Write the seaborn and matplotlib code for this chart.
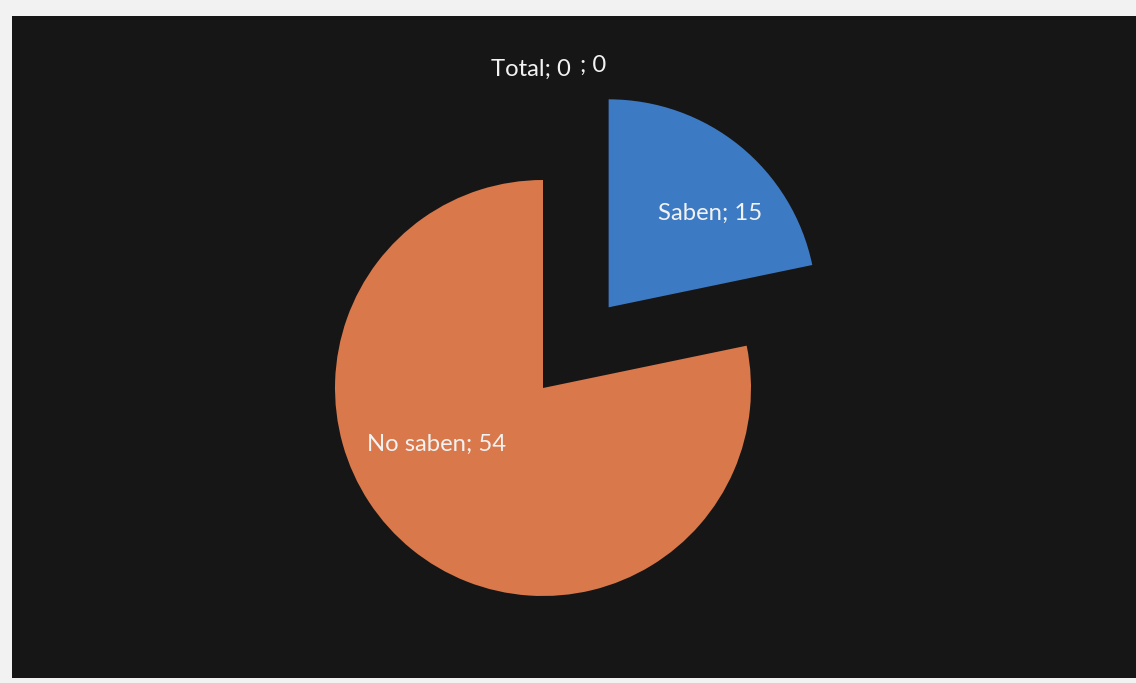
import matplotlib.pyplot as plt
import seaborn as sns

# data
labels = ['Saben', 'No saben', 'Total', '']
values = [15, 54, 0, 0]

# slice colours (scanned Excel look)
colors = ['#3d7ac4', '#d9784a', '#9aa84a', '#7a5aa0']

sns.set_style('white')
plt.rcParams['font.family'] = ['Lato', 'DejaVu Sans']

fig = plt.figure(figsize=(11.36, 6.83), dpi=100, facecolor='#f1f2f1')
# black panel, in pixel units so the pie can sit where it does in the scan
ax = fig.add_axes([12 / 1136, 5 / 683, 1124 / 1136, 662 / 683])
ax.set_facecolor('#161616')

cx, cy, r = 531, 290, 208
# explode is in data units here, so scale it by the radius
explode = [0.5 * r, 0, 0, 0]
# label placement in radius units, relative to each slice's own centre
label_pos = [(0.49, 0.45), (-0.51, -0.27), (-0.06, 1.53), (0.24, 1.55)]

wedges, _ = ax.pie(values, colors=colors, explode=explode, startangle=90,
                   counterclock=False, center=(cx, cy), radius=r,
                   wedgeprops=dict(linewidth=0), frame=True)

for i, (lab, val) in enumerate(zip(labels, values)):
    dx, dy = label_pos[i]
    ox, oy = wedges[i].center
    ax.text(ox + dx * r, oy + dy * r, f'{lab}; {val}', ha='center', va='center',
            color='#f2f2f2', fontsize=17.2)

ax.set_xlim(0, 1124)
ax.set_ylim(0, 662)
ax.set_aspect('equal')
for s in ax.spines.values():
    s.set_visible(False)
ax.set_xticks([])
ax.set_yticks([])

fig.savefig('out.png', dpi=100, facecolor=fig.get_facecolor())
